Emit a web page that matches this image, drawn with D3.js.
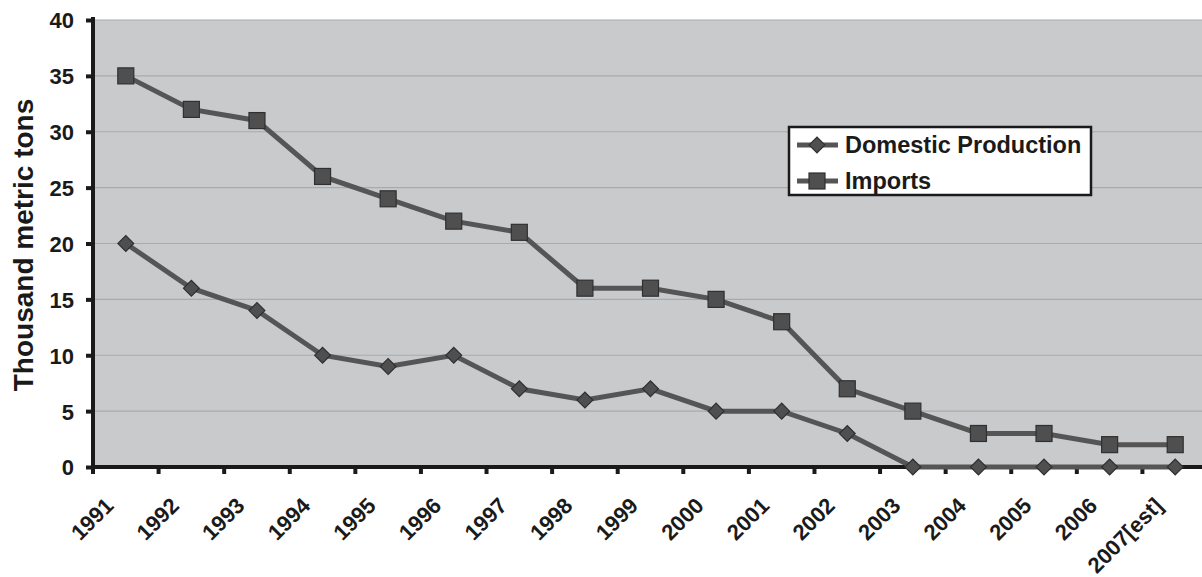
<!DOCTYPE html>
<html><head><meta charset="utf-8">
<script src="https://cdn.jsdelivr.net/npm/d3@7"></script>
<style>body{margin:0;background:#fff;}svg{display:block;font-family:"Liberation Sans",Arial,sans-serif;font-weight:bold;}</style>
</head><body><svg id="c" width="1202" height="577"></svg>
<script>
const years = ["1991","1992","1993","1994","1995","1996","1997","1998","1999","2000","2001","2002","2003","2004","2005","2006","2007[est]"];
const domestic = [20,16,14,10,9,10,7,6,7,5,5,3,0,0,0,0,0];
const imports = [35,32,31,26,24,22,21,16,16,15,13,7,5,3,3,2,2];
const yTicks = [0,5,10,15,20,25,30,35,40];

const svg = d3.select("#c");
const L=93, R=1208, T=20, B=467;
const x = d3.scaleBand().domain(years).range([L,R]);
const y = d3.scaleLinear().domain([0,40]).range([B,T]);
const cx = d => x(d)+x.bandwidth()/2;
const FF = '"Liberation Sans", Arial, sans-serif';

svg.append("rect").attr("x",L).attr("y",T).attr("width",R-L).attr("height",B-T).attr("fill","#c9cacc");
svg.append("g").selectAll("line").data(yTicks.filter(t=>t>0)).join("line")
  .attr("x1",L).attr("x2",R).attr("y1",d=>y(d)).attr("y2",d=>y(d)).attr("stroke","#a9aaac").attr("stroke-width",1.2);

// axes
const ya = svg.append("g").attr("transform",`translate(${L},0)`)
  .call(d3.axisLeft(y).tickValues(yTicks).tickSize(7).tickPadding(12));
ya.select(".domain").attr("stroke","#1a1a1a").attr("stroke-width",4).attr("d",`M0,${T-3}V${B}`);
ya.selectAll(".tick line").attr("stroke","#1a1a1a").attr("stroke-width",4);
ya.selectAll("text").style("font-size","22px").style("font-weight","bold").style("font-family",FF).attr("fill","#1a1a1a").attr("dy","0.36em");

const xa = svg.append("g").attr("transform",`translate(0,${B})`);
xa.append("line").attr("x1",L-2).attr("x2",R).attr("y1",0).attr("y2",0).attr("stroke","#1a1a1a").attr("stroke-width",4);
xa.selectAll("line.tk").data(years).join("line").attr("class","tk")
  .attr("x1",d=>x(d)).attr("x2",d=>x(d)).attr("y1",0).attr("y2",7).attr("stroke","#1a1a1a").attr("stroke-width",4);
xa.selectAll("text").data(years).join("text")
  .attr("transform",d=>`translate(${cx(d)-11},${40}) rotate(-45)`)
  .attr("text-anchor","end").style("font-size","22px").attr("fill","#1a1a1a").text(d=>d);

svg.append("text").attr("transform",`translate(33,245) rotate(-90)`).attr("text-anchor","middle")
  .style("font-size","28px").attr("fill","#1a1a1a").text("Thousand metric tons");

const line = d3.line().x((d,i)=>cx(years[i])).y(d=>y(d));
const lc="#555555", mf="#4f4f4f", ms="#303030";
svg.append("path").attr("d",line(domestic)).attr("fill","none").attr("stroke",lc).attr("stroke-width",5);
svg.append("path").attr("d",line(imports)).attr("fill","none").attr("stroke",lc).attr("stroke-width",5);
const diamond = d3.symbol().type(d3.symbolSquare).size(125);
svg.append("g").selectAll("path").data(domestic).join("path")
  .attr("d",diamond).attr("transform",(d,i)=>`translate(${cx(years[i])},${y(d)}) rotate(45)`)
  .attr("fill",mf).attr("stroke",ms).attr("stroke-width",1.2);
svg.append("g").selectAll("rect").data(imports).join("rect")
  .attr("x",(d,i)=>cx(years[i])-8).attr("y",d=>y(d)-8).attr("width",16).attr("height",16)
  .attr("fill",mf).attr("stroke",ms).attr("stroke-width",1.2);

// legend
const lg = svg.append("g");
lg.append("rect").attr("x",789).attr("y",127).attr("width",302).attr("height",68).attr("fill","#fff").attr("stroke","#1a1a1a").attr("stroke-width",2.5);
const items=[{n:"Domestic Production",t:"d"},{n:"Imports",t:"s"}];
items.forEach((it,i)=>{
  const yy = 145+i*36;
  lg.append("line").attr("x1",797).attr("x2",838).attr("y1",yy).attr("y2",yy).attr("stroke",lc).attr("stroke-width",5);
  if(it.t==="d") lg.append("path").attr("d",diamond).attr("transform",`translate(817,${yy}) rotate(45)`).attr("fill",mf).attr("stroke",ms).attr("stroke-width",1.2);
  else lg.append("rect").attr("x",817-8).attr("y",yy-8).attr("width",16).attr("height",16).attr("fill",mf).attr("stroke",ms).attr("stroke-width",1.2);
  lg.append("text").attr("x",845).attr("y",yy+8).style("font-size","23.5px").attr("fill","#1a1a1a").text(it.n);
});
</script></body></html>
